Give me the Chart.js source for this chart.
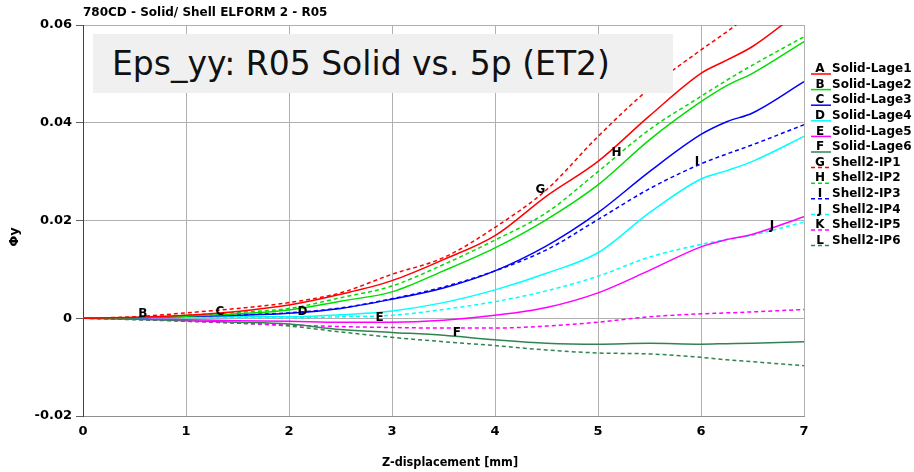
<!DOCTYPE html>
<html lang="de">
<head>
  <meta charset="UTF-8" />
  <title>780CD - Solid/ Shell ELFORM 2 - R05</title>
  <script src="https://cdn.jsdelivr.net/npm/chart.js"></script>
  <style>
    body { margin: 0; background: #fff; font-family: "DejaVu Sans", sans-serif; }
    #wrap { position: relative; width: 914px; height: 472px; }
    #titelBox {
      position: absolute; left: 93px; top: 34px; width: 580px; height: 59px;
      background: #f0f0f0; font-size: 33px; line-height: 59px; padding-left: 19px;
      box-sizing: border-box; color: #111; white-space: nowrap;
    }
  </style>
</head>
<body>
  <div id="wrap">
    <canvas id="chart" width="914" height="472"></canvas>
    <div id="titelBox">Eps_yy: R05 Solid vs. 5p (ET2)</div>
  </div>

  <script>
    // Z-Verschiebung [mm]
    const xWerte = [0, 0.5, 1, 1.5, 2, 2.5, 3, 3.5, 4, 4.5, 5, 5.5, 6, 6.25, 6.5, 7];

    const solidLage1 = [0, 0.0002, 0.0006, 0.0014, 0.0027, 0.0049, 0.0077, 0.0120, 0.0169, 0.0250, 0.0321, 0.0414, 0.0501, 0.0528, 0.0556, 0.0635];
    const solidLage2 = [0, 0.0001, 0.0004, 0.0009, 0.0017, 0.0035, 0.0054, 0.0097, 0.0144, 0.0202, 0.0273, 0.0365, 0.0443, 0.0476, 0.0501, 0.0566];
    const solidLage3 = [0, 0.0001, 0.0004, 0.0006, 0.0010, 0.0020, 0.0039, 0.0062, 0.0097, 0.0148, 0.0216, 0.0300, 0.0376, 0.0402, 0.0420, 0.0484];
    const solidLage4 = [0, 0.0001, 0.0002, 0.0003, 0.0003, 0.0007, 0.0015, 0.0032, 0.0058, 0.0092, 0.0134, 0.0216, 0.0285, 0.0302, 0.0321, 0.0372];
    const solidLage5 = [0, -0.0001, -0.0003, -0.0005, -0.0006, -0.0008, -0.0008, -0.0004, 0.0006, 0.0022, 0.0052, 0.0098, 0.0146, 0.0161, 0.0172, 0.0208];
    const solidLage6 = [0, -0.0002, -0.0005, -0.0008, -0.0012, -0.0023, -0.0029, -0.0035, -0.0044, -0.0051, -0.0053, -0.0051, -0.0053, -0.0052, -0.0051, -0.0048];
    const shellIP1 = [0, 0.0003, 0.0011, 0.0020, 0.0032, 0.0052, 0.0090, 0.0124, 0.0186, 0.0263, 0.0372, 0.0470, 0.0549, 0.0586, 0.0625, 0.0690];
    const shellIP2 = [0, 0.0002, 0.0006, 0.0012, 0.0020, 0.0042, 0.0066, 0.0110, 0.0160, 0.0216, 0.0300, 0.0386, 0.0454, 0.0487, 0.0518, 0.0576];
    const shellIP3 = [0, 0.0001, 0.0004, 0.0007, 0.0011, 0.0021, 0.0040, 0.0064, 0.0097, 0.0140, 0.0202, 0.0265, 0.0316, 0.0336, 0.0355, 0.0396];
    const shellIP4 = [0, 0.0001, 0.0001, 0.0001, 0.0001, 0.0003, 0.0006, 0.0018, 0.0034, 0.0056, 0.0086, 0.0125, 0.0151, 0.0161, 0.0170, 0.0197];
    const shellIP5 = [0, -0.0002, -0.0006, -0.0010, -0.0014, -0.0017, -0.0019, -0.0020, -0.0020, -0.0016, -0.0008, 0.0003, 0.0009, 0.0011, 0.0013, 0.0018];
    const shellIP6 = [0, -0.0003, -0.0006, -0.0010, -0.0016, -0.0028, -0.0039, -0.0048, -0.0056, -0.0065, -0.0071, -0.0073, -0.0080, -0.0085, -0.0089, -0.0097];

    const namen = ["Solid-Lage1", "Solid-Lage2", "Solid-Lage3", "Solid-Lage4", "Solid-Lage5", "Solid-Lage6",
                   "Shell2-IP1", "Shell2-IP2", "Shell2-IP3", "Shell2-IP4", "Shell2-IP5", "Shell2-IP6"];
    const buchstaben = ["A", "B", "C", "D", "E", "F", "G", "H", "I", "J", "K", "L"];
    // x-Position der Kurvenbuchstaben (A, K, L liegen ausserhalb)
    const buchstabenX = [null, 0.58, 1.33, 2.13, 2.88, 3.63, 4.44, 5.18, 5.96, 6.69, null, null];
    const reihen = [solidLage1, solidLage2, solidLage3, solidLage4, solidLage5, solidLage6,
                    shellIP1, shellIP2, shellIP3, shellIP4, shellIP5, shellIP6];
    const farben = ["#ff0000", "#00dd00", "#0000ff", "#00ffff", "#ff00ff", "#2f8450"];
    const yTicks = [-0.02, 0, 0.02, 0.04, 0.06];
    const xTicks = [0, 1, 2, 3, 4, 5, 6, 7];

    const fettFont = "'DejaVu Sans', sans-serif";

    const datasets = reihen.map((werte, i) => ({
      label: namen[i],
      data: werte.map((y, j) => ({ x: xWerte[j], y: y })),
      borderColor: farben[i % 6],
      borderWidth: 1.5,
      borderDash: i >= 6 ? [4, 3] : [],
      pointRadius: 0,
      cubicInterpolationMode: "monotone",
      fill: false
    }));

    function wertBei(werte, x) {
      for (let j = 0; j < xWerte.length - 1; j++) {
        if (x >= xWerte[j] && x <= xWerte[j + 1]) {
          const t = (x - xWerte[j]) / (xWerte[j + 1] - xWerte[j]);
          return werte[j] + t * (werte[j + 1] - werte[j]);
        }
      }
      return werte[werte.length - 1];
    }

    const beschriftung = {
      id: "beschriftung",
      afterDraw(chart) {
        const ctx = chart.ctx;
        const sx = chart.scales.x, sy = chart.scales.y;
        ctx.save();
        // Buchstaben auf den Kurven
        ctx.fillStyle = "#000";
        ctx.font = "bold 12px " + fettFont;
        ctx.textAlign = "center";
        ctx.textBaseline = "middle";
        reihen.forEach((werte, i) => {
          if (buchstabenX[i] === null) return;
          const px = sx.getPixelForValue(buchstabenX[i]);
          const py = sy.getPixelForValue(wertBei(werte, buchstabenX[i]));
          ctx.fillText(buchstaben[i], px, py - 4);
        });

        // Legende rechts
        const lx = 811, ly0 = 69, dy = 15.6;
        reihen.forEach((werte, i) => {
          const y = ly0 + i * dy;
          ctx.strokeStyle = farben[i % 6];
          ctx.lineWidth = 1.5;
          ctx.setLineDash(i >= 6 ? [4, 3] : []);
          ctx.beginPath();
          ctx.moveTo(lx, y + 5);
          ctx.lineTo(lx + 20, y + 5);
          ctx.stroke();
          ctx.setLineDash([]);
          ctx.fillStyle = "#000";
          ctx.font = "bold 12px " + fettFont;
          ctx.textAlign = "center";
          ctx.fillText(buchstaben[i], lx + 9, y);
          ctx.textAlign = "left";
          ctx.fillText(namen[i], lx + 21, y);
        });

        // Titel oben
        ctx.textAlign = "left";
        ctx.textBaseline = "middle";
        ctx.font = "bold 12px " + fettFont;
        ctx.fillText("780CD - Solid/ Shell ELFORM 2 - R05", 83, 13);

        // Achsentitel (schmal gezeichnet)
        ctx.save();
        ctx.translate(450, 463);
        ctx.scale(0.87, 1);
        ctx.font = "bold 13px " + fettFont;
        ctx.textAlign = "center";
        ctx.fillText("Z-displacement [mm]", 0, 0);
        ctx.restore();
        ctx.translate(15, 237);
        ctx.rotate(-Math.PI / 2);
        ctx.font = "bold 13px " + fettFont;
        ctx.textAlign = "center";
        ctx.fillText("Φy", 0, 0);
        ctx.restore();
      }
    };

    new Chart(document.getElementById("chart").getContext("2d"), {
      type: "line",
      data: { datasets: datasets },
      options: {
        responsive: false,
        animation: false,
        layout: { padding: { top: 25, right: 110, left: 0, bottom: 0 } },
        plugins: { legend: { display: false }, tooltip: { enabled: false } },
        scales: {
          x: {
            type: "linear",
            min: 0, max: 7,
            afterFit(scale) { scale.height = 56; },
            afterBuildTicks(scale) { scale.ticks = xTicks.map(v => ({ value: v })); },
            grid: { color: "#b0b0b0", drawTicks: false },
            border: { color: "#909090" },
            ticks: {
              padding: 8,
              color: "#000",
              font: { family: fettFont, size: 13, weight: "bold" },
              callback: v => String(v)
            }
          },
          y: {
            min: -0.02, max: 0.06,
            afterFit(scale) { scale.width = 83; },
            afterBuildTicks(scale) { scale.ticks = yTicks.map(v => ({ value: v })); },
            grid: { color: "#b0b0b0", tickLength: 7, tickColor: "#606060" },
            border: { color: "#404040" },
            ticks: {
              padding: 4,
              color: "#000",
              font: { family: fettFont, size: 13, weight: "bold" },
              callback: v => String(Number(v.toFixed(2)))
            }
          }
        }
      },
      plugins: [beschriftung]
    });
  </script>
</body>
</html>
